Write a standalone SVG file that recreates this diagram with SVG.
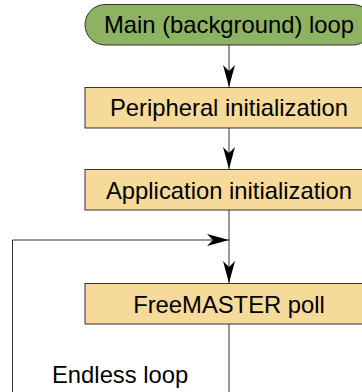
<svg xmlns="http://www.w3.org/2000/svg" width="362" height="392" viewBox="0 0 362 392">
  <defs>
    <marker id="arr" markerUnits="userSpaceOnUse" markerWidth="24" markerHeight="14" viewBox="-23 -7 24 14" refX="0" refY="0" orient="auto">
      <path d="M0,0 L-22,-6 L-16,0 L-22,6 Z" fill="#000"/>
    </marker>
  </defs>
  <style>
    .box { fill: #f5da9a; stroke: #333; stroke-width: 1; }
    .pill { fill: #8db262; stroke: #333; stroke-width: 1; }
    .lbl { font-family: "Liberation Sans", Arial, sans-serif; font-size: 23.8px; fill: #000; }
    .conn { fill: none; stroke: #333; stroke-width: 1; }
  </style>
  <rect width="362" height="392" fill="#fff"/>
  <g id="connectors">
    <path class="conn" d="M229,45 V87" marker-end="url(#arr)"/>
    <path class="conn" d="M229,128 V169" marker-end="url(#arr)"/>
    <path class="conn" d="M229,210 V283" marker-end="url(#arr)"/>
    <path class="conn" d="M229,324 V392"/>
    <path class="conn" d="M12.5,392 V240 H229" marker-end="url(#arr)"/>
  </g>
  <g id="main-loop">
    <rect class="pill" x="85" y="4.5" width="288" height="40.5" rx="20.25"/>
    <text class="lbl" x="229" y="33" text-anchor="middle">Main (background) loop</text>
  </g>
  <g id="peripheral-init">
    <rect class="box" x="85" y="87.5" width="288" height="40.5"/>
    <text class="lbl" x="229" y="116" text-anchor="middle">Peripheral initialization</text>
  </g>
  <g id="application-init">
    <rect class="box" x="85" y="169.5" width="288" height="40.5"/>
    <text class="lbl" x="229" y="199" text-anchor="middle">Application initialization</text>
  </g>
  <g id="freemaster-poll">
    <rect class="box" x="85" y="283.5" width="288" height="40.5"/>
    <text class="lbl" x="229" y="312.5" text-anchor="middle">FreeMASTER poll</text>
  </g>
  <g id="endless-loop-label">
    <text class="lbl" x="52" y="383">Endless loop</text>
  </g>
</svg>
